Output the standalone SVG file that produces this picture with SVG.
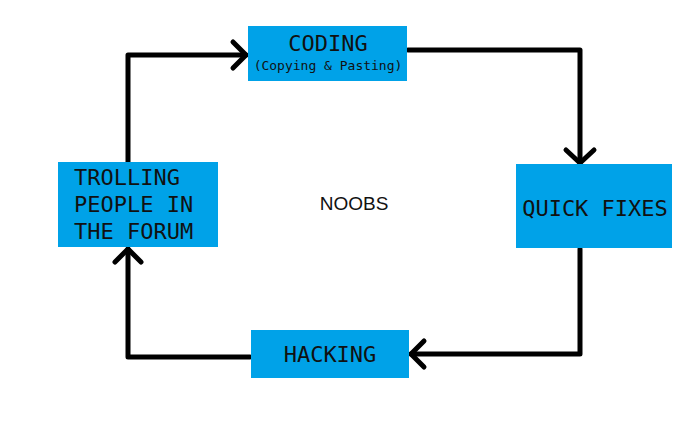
<svg xmlns="http://www.w3.org/2000/svg" width="700" height="448" viewBox="0 0 700 448">
<style>
.box{fill:#00A2E8}
.t{font-family:"DejaVu Sans Mono","Liberation Mono",monospace;font-size:22px;fill:#111}
.s{font-family:"DejaVu Sans Mono","Liberation Mono",monospace;font-size:13px;fill:#111}
.c{fill:none;stroke:#000;stroke-width:5;stroke-linecap:round;stroke-linejoin:round}
</style>
<rect width="700" height="448" fill="#fff"/>
<g id="connectors">
<path class="c" d="M128,162 V55 H246"/>
<path class="c" d="M233,42 L246,55 L233,68"/>
<path class="c" d="M408,50 H580 V163"/>
<path class="c" d="M566,150 L580,163 L594,150"/>
<path class="c" d="M580,249 V354 H411"/>
<path class="c" d="M424,341 L411,354 L424,367"/>
<path class="c" d="M250,357 H128 V249"/>
<path class="c" d="M115,262 L128,249 L141,262"/>
</g>
<g id="coding">
<rect class="box" x="248" y="26" width="159" height="55"/>
<text class="t" x="328" y="51" text-anchor="middle">CODING</text>
<text class="s" x="328" y="70" text-anchor="middle">(Copying &amp; Pasting)</text>
</g>
<g id="quickfixes">
<rect class="box" x="516" y="164" width="156" height="84"/>
<text class="t" x="595" y="216" text-anchor="middle">QUICK FIXES</text>
</g>
<g id="hacking">
<rect class="box" x="251" y="330" width="158" height="48"/>
<text class="t" x="330" y="362" text-anchor="middle">HACKING</text>
</g>
<g id="trolling">
<rect class="box" x="58" y="162" width="160" height="85"/>
<text class="t" x="74" y="185">TROLLING</text>
<text class="t" x="74" y="212">PEOPLE IN</text>
<text class="t" x="74" y="239">THE FORUM</text>
</g>
<g id="noobs">
<text x="354" y="210" text-anchor="middle" font-family="'Liberation Sans',Arial,sans-serif" font-size="19" fill="#111">NOOBS</text>
</g>
</svg>
